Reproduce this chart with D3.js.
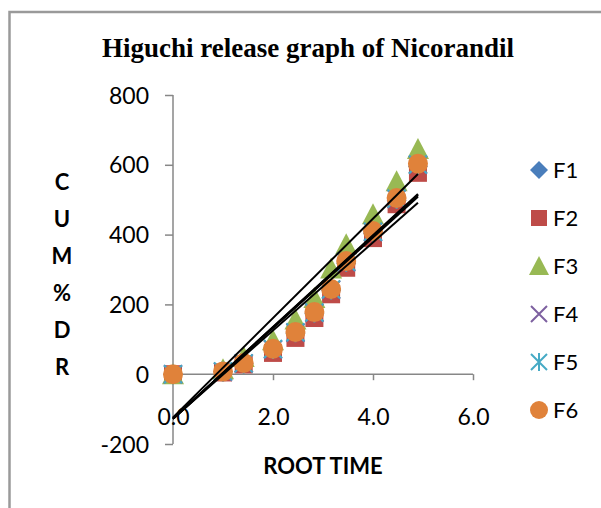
<!DOCTYPE html>
<html><head><meta charset="utf-8">
<script src="https://cdn.jsdelivr.net/npm/d3@7"></script>
<style>html,body{margin:0;padding:0;background:#fff;}svg{display:block;}</style>
</head><body>
<svg id="c" width="601" height="508"></svg>
<script>
const rootTime = [0, 1, 1.414, 2, 2.449, 2.828, 3.162, 3.464, 4, 4.472, 4.899];
const F1 = [0, 7, 30, 70, 117, 174, 240, 318, 404, 498, 596];
const F2 = [0, 5, 28, 61, 104, 161, 229, 305, 390, 487, 577];
const F3 = [0, 14, 49, 97, 157, 218, 303, 372, 458, 553, 645];
const F4 = [0, 7, 31, 71, 119, 176, 242, 321, 407, 502, 600];
const F5 = [0, 8, 31, 72, 120, 177, 243, 322, 408, 503, 601];
const F6 = [0, 8, 32, 73, 121, 178, 244, 324, 410, 505, 603];
const seriesNames = ["F1", "F2", "F3", "F4", "F5", "F6"];
const xTicks = [0, 2, 4, 6];
const yTicks = [-200, 0, 200, 400, 600, 800];
const yTitleLetters = ["C", "U", "M", "%", "D", "R"];

const seriesData = [F1, F2, F3, F4, F5, F6];
const colors = ["#4a7ebb", "#be4b48", "#98b954", "#7d60a0", "#46aac5", "#e0823a"];
const symbols = ["diamond", "square", "triangle", "x", "star", "circle"];

const svg = d3.select("#c");
const x = d3.scaleLinear().domain([0, 6]).range([173, 473]);
const y = d3.scaleLinear().domain([-200, 800]).range([444, 95]);

// frame
svg.append("path").attr("d", "M9.5,520 L9.5,12 L620,12").attr("fill", "none")
  .attr("stroke", "#9a9a9a").attr("stroke-width", 2.5);

// title
svg.append("text").attr("x", 308).attr("y", 57).attr("text-anchor", "middle")
  .attr("font-family", "Liberation Serif").attr("font-weight", "bold").attr("font-size", 27)
  .text("Higuchi release graph of Nicorandil");

const axisColor = "#878787";
// y axis
const yAxis = svg.append("g").attr("transform", `translate(${x(0)},0)`)
  .call(d3.axisLeft(y).tickValues(yTicks).tickSize(8).tickPadding(16).tickFormat(d => String(d)));
yAxis.select(".domain").attr("stroke", axisColor).attr("stroke-width", 1.5)
  .attr("d", `M0,${y(800)}V${y(-200)}`);
yAxis.selectAll(".tick line").attr("stroke", axisColor).attr("stroke-width", 1.5);
yAxis.selectAll(".tick text").attr("font-family", "Lato").attr("font-size", 23).attr("fill", "#000")
  .attr("dy", "0.35em");

// x axis at y=0
const xAxis = svg.append("g").attr("transform", `translate(0,${y(0)})`)
  .call(d3.axisBottom(x).tickValues(xTicks).tickSize(6).tickPadding(30).tickFormat(d => d.toFixed(1)));
xAxis.select(".domain").attr("stroke", axisColor).attr("stroke-width", 1.5)
  .attr("d", `M${x(0)},0H${x(6)}`);
xAxis.selectAll(".tick line").attr("stroke", axisColor).attr("stroke-width", 1.5);
xAxis.selectAll(".tick text").attr("font-family", "Lato").attr("font-size", 23).attr("fill", "#000")
  .attr("dy", "0.35em").attr("y", 43);

// axis titles
svg.append("text").attr("x", 323).attr("y", 474).attr("text-anchor", "middle")
  .attr("font-family", "Lato").attr("font-weight", "bold").attr("font-size", 22)
  .text("ROOT TIME");
svg.append("g").selectAll("text").data(yTitleLetters).join("text")
  .attr("x", 62).attr("y", (d, i) => 182 + i * 37).attr("dy", "0.35em").attr("text-anchor", "middle")
  .attr("font-family", "Lato").attr("font-weight", "bold").attr("font-size", 22)
  .text(d => d);

function marker(g, type, color, s) {
  if (type === "diamond") {
    g.append("path").attr("d", `M0,${-s/2}L${s/2},0L0,${s/2}L${-s/2},0Z`).attr("fill", color);
  } else if (type === "square") {
    g.append("rect").attr("x", -s/2 + 1).attr("y", -s/2 + 1).attr("width", s - 2).attr("height", s - 2).attr("fill", color);
  } else if (type === "triangle") {
    g.append("path").attr("d", `M0,${-s/2 - 1}L${s/2 + 1},${s/2}L${-s/2 - 1},${s/2}Z`).attr("fill", color);
  } else if (type === "x") {
    const h = s/2 - 1;
    g.append("path").attr("d", `M${-h},${-h}L${h},${h}M${-h},${h}L${h},${-h}`).attr("stroke", color).attr("stroke-width", 2);
  } else if (type === "star") {
    const h = s/2 - 1;
    g.append("path").attr("d", `M${-h},${-h}L${h},${h}M${-h},${h}L${h},${-h}M0,${-h-1}V${h+1}`).attr("stroke", color).attr("stroke-width", 2);
  } else {
    g.append("circle").attr("r", s/2).attr("fill", color);
  }
}

// points
seriesData.forEach((vals, si) => {
  const g = svg.append("g");
  vals.forEach((v, i) => {
    const mg = g.append("g").attr("transform", `translate(${x(rootTime[i])},${y(v)})`);
    marker(mg, symbols[si], colors[si], 20);
  });
});

// linear trendlines (least squares from the data)
seriesData.forEach(vals => {
  const n = vals.length;
  const mx = d3.mean(rootTime), my = d3.mean(vals);
  let sxy = 0, sxx = 0;
  for (let i = 0; i < n; i++) { sxy += (rootTime[i] - mx) * (vals[i] - my); sxx += (rootTime[i] - mx) ** 2; }
  const b = sxy / sxx, a = my - b * mx;
  const x0 = d3.min(rootTime), x1 = d3.max(rootTime);
  svg.append("line").attr("x1", x(x0)).attr("y1", y(a + b * x0)).attr("x2", x(x1)).attr("y2", y(a + b * x1))
    .attr("stroke", "#000").attr("stroke-width", 2);
});

// legend
const lg = svg.append("g");
seriesNames.forEach((name, i) => {
  const yy = 170 + i * 48;
  const mg = lg.append("g").attr("transform", `translate(539,${yy})`);
  marker(mg, symbols[i], colors[i], 18);
  lg.append("text").attr("x", 553).attr("y", yy).attr("dy", "0.35em")
    .attr("font-family", "Lato").attr("font-size", 22).text(name);
});
</script>
</body></html>
